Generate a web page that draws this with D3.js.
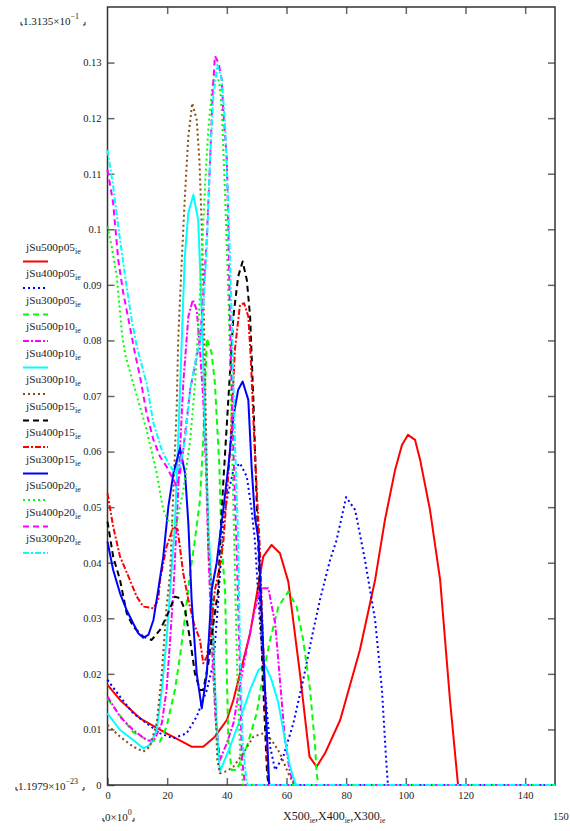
<!DOCTYPE html>
<html><head><meta charset="utf-8">
<script src="https://cdn.jsdelivr.net/npm/d3@7"></script>
<style>
body{margin:0;background:#fff}
svg text{font-family:"Liberation Serif","DejaVu Serif",serif !important;fill:#222}
</style></head>
<body><svg id="chart" width="570" height="831" font-family="Liberation Serif, serif"></svg>
<script>
// ---- data (x, y) ----
const seriesNames = ["jSu500p05","jSu400p05","jSu300p05","jSu500p10","jSu400p10","jSu300p10",
  "jSu500p15","jSu400p15","jSu300p15","jSu500p20","jSu400p20","jSu300p20"];
const seriesColors = ["#ff0000","#0000ff","#00ff00","#ff00ff","#00ffff","#8b4a10",
  "#000000","#ff0000","#0000ff","#00ff00","#ff00ff","#00ffff"];
const seriesDash = ["solid","dot","dash","dadot","solid","dot","dash","dadot","solid","dot","dash","dadot"];

const jSu500p05 = [[0,0.018],[4.2,0.0153],[10.9,0.012],[19.8,0.0093],[28.2,0.0069],[32.1,0.0069],[36,0.0087],[40,0.0117],[42.2,0.0153],[47.8,0.0273],[52.2,0.0411],[55,0.0432],[57.8,0.0417],[60.6,0.0366],[64.5,0.0201],[67.7,0.0051],[70.1,0.0033],[72.9,0.0057],[78,0.0117],[84.6,0.0243],[89.7,0.0369],[93,0.0477],[96.4,0.0567],[98.7,0.0612],[100.7,0.063],[103.1,0.0621],[104.8,0.0585],[108.1,0.0495],[111.5,0.0369],[114.8,0.0153],[117.5,0],[150,0]];
const jSu400p05 = [[0,0.0189],[4.2,0.0159],[8.6,0.0129],[13.1,0.0111],[17.6,0.0093],[22.1,0.0084],[26.5,0.0093],[29.9,0.0123],[33.3,0.0171],[35.5,0.0219],[37.1,0.033],[38.8,0.0471],[40,0.0513],[42.2,0.0567],[44.4,0.0579],[46.7,0.0555],[48.3,0.0495],[49.4,0.0441],[51.1,0.0291],[52.8,0.0171],[54.5,0.0069],[56.2,0.0027],[58.9,0.0051],[62.3,0.0111],[65.6,0.0189],[69,0.0279],[71.2,0.0333],[74.6,0.0405],[76.8,0.0441],[80,0.0518],[83,0.0495],[86.3,0.0405],[89.7,0.0297],[92,0.0171],[93.4,0.0045],[94,0],[150,0]];
const jSu300p05 = [[0,0.0155],[4.2,0.0125],[8.6,0.0095],[13.1,0.0082],[17.6,0.0078],[19.8,0.0105],[22.6,0.0171],[24.3,0.0231],[26,0.0303],[27.7,0.0381],[29.3,0.0441],[31,0.0513],[32.1,0.0621],[33.3,0.0804],[34.9,0.0777],[36,0.0723],[36.6,0.0663],[37.5,0.0573],[38.2,0.0435],[39.4,0.0351],[40,0.0201],[40.5,0.0081],[41.6,0.0027],[43.3,0.0027],[46.7,0.0069],[50,0.0129],[52.2,0.0201],[54.5,0.0261],[57.3,0.0321],[60.6,0.0348],[63.4,0.0321],[65.6,0.0261],[67.9,0.0171],[69.6,0.0069],[70.1,0.0021],[70.7,0],[150,0]];
const jSu500p10 = [[0,0.0159],[4.2,0.0123],[8.6,0.0099],[13.1,0.0081],[15.4,0.0078],[18.2,0.0111],[19.8,0.0171],[21,0.0261],[22.1,0.0351],[23.2,0.0471],[24.3,0.0603],[25.4,0.0723],[27.1,0.0843],[28.6,0.0873],[29.9,0.0855],[31,0.0783],[32.1,0.0693],[33,0.0573],[33.8,0.0423],[35,0.025],[36.2,0.012],[37.7,0.0045],[40,0.0075],[42.2,0.0111],[45.5,0.0213],[48.9,0.0303],[51.1,0.0354],[53.9,0.0354],[56.2,0.0291],[57.8,0.0189],[59.5,0.0081],[61.2,0.0021],[62.3,0.0006],[63,0],[150,0]];
const jSu400p10 = [[0,0.0129],[4.2,0.0099],[8.6,0.0081],[12,0.0066],[14.2,0.0072],[16.5,0.0099],[18.2,0.0171],[19.8,0.0261],[21,0.0351],[22.6,0.0471],[23.7,0.0621],[24.9,0.0801],[25.9,0.095],[27.1,0.103],[28.8,0.1062],[30.4,0.1017],[31.6,0.085],[32.7,0.065],[33.8,0.047],[34.9,0.0351],[36,0.018],[37.1,0.006],[37.7,0.0024],[41.1,0.0069],[44.4,0.0117],[47.8,0.0171],[50.6,0.0207],[52.8,0.0216],[55,0.0189],[57.3,0.0147],[59.5,0.0081],[61.2,0.0033],[62.9,0.0003],[63.5,0],[150,0]];
const jSu300p10 = [[0,0.0108],[4.2,0.0087],[8.6,0.0069],[12,0.006],[14.2,0.0069],[16.5,0.0111],[18.2,0.0201],[19.8,0.0321],[21,0.0381],[22.1,0.0531],[23.2,0.0681],[23.7,0.0801],[24.9,0.0945],[26,0.1065],[27.1,0.1167],[28.4,0.1227],[29.9,0.1197],[30.8,0.1125],[31.6,0.1005],[32.1,0.09],[33,0.065],[33.8,0.0423],[34.9,0.0351],[36,0.0171],[36.8,0.0045],[37.7,0.0021],[40,0.0025],[42.2,0.0033],[45.5,0.0057],[48.9,0.0087],[52.2,0.0093],[55,0.0081],[57.8,0.0057],[60.6,0.0021],[62.3,0.0003],[63,0],[150,0]];
const jSu500p15 = [[0,0.0474],[1.9,0.0411],[4.2,0.0369],[6.4,0.031],[8.6,0.0285],[12,0.0267],[14.8,0.0261],[17.6,0.0279],[19.8,0.0303],[22.6,0.0339],[24.3,0.0336],[26,0.0315],[27.7,0.0261],[29.3,0.0201],[31,0.0171],[32.1,0.0171],[33.8,0.0219],[35.5,0.0291],[37.1,0.0351],[37.7,0.0435],[38.8,0.0543],[40.5,0.0693],[42.2,0.0843],[43.8,0.0915],[45.3,0.0942],[46.7,0.0909],[47.8,0.0843],[48.9,0.0693],[49.8,0.0543],[50.6,0.0423],[52,0.02],[53.5,0.002],[54,0],[150,0]];
const jSu400p15 = [[0,0.0525],[1.9,0.0465],[4.2,0.0411],[7.5,0.0369],[9.8,0.0339],[12,0.0321],[15.4,0.0318],[17,0.0333],[17.6,0.0369],[19.8,0.0429],[22.1,0.0465],[23.5,0.046],[25.4,0.0381],[27.1,0.0333],[29,0.029],[31,0.0261],[32.1,0.0219],[33.3,0.0231],[34.9,0.0291],[36,0.0351],[37.5,0.039],[38.8,0.0435],[41.1,0.0603],[42.7,0.0783],[44.4,0.0864],[45.8,0.0867],[47.2,0.0843],[48,0.0771],[49.1,0.0633],[50.2,0.0513],[51.1,0.0423],[52.5,0.02],[53.8,0.002],[54.3,0],[150,0]];
const jSu300p15 = [[0,0.0438],[1.9,0.0387],[4.2,0.0345],[6.4,0.0315],[8.6,0.0291],[10.3,0.0273],[12,0.0265],[13.7,0.027],[15.4,0.0297],[17,0.0351],[18.7,0.0411],[20.4,0.0501],[22.1,0.0561],[24.3,0.0606],[26,0.0561],[27.1,0.0471],[28.2,0.0333],[29.9,0.0201],[31.6,0.0138],[33.3,0.0201],[34.9,0.0351],[36.6,0.04],[38.8,0.0495],[40.5,0.0573],[42.2,0.0663],[43.8,0.0711],[45.3,0.0726],[47.2,0.0693],[48.3,0.0573],[49.4,0.0483],[50.6,0.0441],[52.4,0.022],[54.2,0],[150,0]];
const jSu500p20 = [[0,0.1005],[1.4,0.0969],[3.1,0.0915],[4.8,0.0815],[5.9,0.0775],[8.6,0.0723],[13.1,0.0639],[16.5,0.0561],[18.7,0.0495],[20.4,0.0474],[23.2,0.0471],[25.4,0.053],[27.7,0.062],[29.3,0.072],[30.4,0.082],[31.6,0.095],[32.7,0.108],[33.8,0.118],[35,0.125],[36,0.1281],[37.5,0.1265],[38.3,0.1215],[39.4,0.1065],[40.5,0.0885],[41.1,0.0765],[42.2,0.05],[43.5,0.02],[44.5,0.005],[45.5,0],[150,0]];
const jSu400p20 = [[0,0.1107],[1.9,0.1047],[3.6,0.0945],[5.3,0.0885],[7.5,0.0825],[9.2,0.0777],[10.9,0.0735],[13.1,0.0669],[15.4,0.0621],[17.6,0.0591],[19.8,0.0573],[21.5,0.0555],[23.2,0.0537],[24.3,0.0561],[25.4,0.0603],[27.7,0.0711],[29.9,0.0771],[31,0.08],[32.1,0.088],[33.3,0.0985],[34.4,0.1125],[35.3,0.125],[36,0.1312],[37.2,0.13],[38.3,0.1269],[38.8,0.1215],[40,0.1125],[40.5,0.1005],[41.1,0.0825],[42.2,0.0603],[43.3,0.0423],[44.4,0.0201],[45,0.0051],[46.1,0],[150,0]];
const jSu300p20 = [[0,0.1143],[1.9,0.1077],[3.6,0.1005],[5.9,0.0915],[8.1,0.0837],[9.8,0.079],[11.5,0.0755],[13.1,0.0723],[15.4,0.0651],[18.2,0.0603],[20.4,0.0579],[22.6,0.0561],[24.3,0.0573],[26,0.0621],[27.7,0.0711],[29.9,0.0775],[31,0.0795],[32.1,0.086],[33.3,0.097],[34.4,0.113],[35.5,0.124],[36.8,0.1296],[38.3,0.127],[39.4,0.119],[40.5,0.104],[41.6,0.085],[42.7,0.062],[43.8,0.044],[44.4,0.025],[45.3,0.008],[46.5,0.001],[47,0],[150,0]];
const seriesData = [jSu500p05,jSu400p05,jSu300p05,jSu500p10,jSu400p10,jSu300p10,
  jSu500p15,jSu400p15,jSu300p15,jSu500p20,jSu400p20,jSu300p20];

const xDomain = [0,150];
const yDomain = [0,0.14];
const xTicks = [0,20,40,60,80,100,120,140];
const yTicks = [0,0.01,0.02,0.03,0.04,0.05,0.06,0.07,0.08,0.09,0.1,0.11,0.12,0.13];
const xTitleParts = ["X500","X400","X300"];

// ---- drawing ----
const FONT = "'Liberation Serif', 'DejaVu Serif', serif";
const svg = d3.select("#chart");
const L = 107.5, R = 555, T = 7, B = 785;
const x = d3.scaleLinear().domain(xDomain).range([L,R]);
const y = d3.scaleLinear().domain(yDomain).range([B,T]);
const dashes = {solid:null, dot:"2,3", dash:"6,4", dadot:"6,2,2,2"};

function styleAxis(g, labels){
  g.attr("font-family",FONT);
  g.select(".domain").remove();
  g.selectAll(".tick line").attr("stroke","#666").attr("stroke-width",1.5);
  g.selectAll(".tick text").attr("font-family",FONT).style("font-size","10.5px").attr("fill","#222");
  if(!labels) g.selectAll(".tick text").remove();
}
const fmt = d => (+d.toFixed(2)).toString();
svg.append("g").attr("transform",`translate(0,${B})`)
  .call(d3.axisBottom(x).tickValues(xTicks).tickSize(-7).tickPadding(7).tickFormat(d=>d))
  .call(g=>styleAxis(g,true));
svg.append("g").attr("transform",`translate(0,${T})`)
  .call(d3.axisTop(x).tickValues(xTicks.slice(1)).tickSize(-7))
  .call(g=>styleAxis(g,false));
svg.append("g").attr("transform",`translate(${L},0)`)
  .call(d3.axisLeft(y).tickValues(yTicks).tickSize(-7).tickPadding(6).tickFormat(fmt))
  .call(g=>styleAxis(g,true));
svg.append("g").attr("transform",`translate(${R},0)`)
  .call(d3.axisRight(y).tickValues(yTicks.slice(1)).tickSize(-7))
  .call(g=>styleAxis(g,false));

svg.append("rect").attr("x",L).attr("y",T).attr("width",R-L).attr("height",B-T)
  .attr("fill","none").attr("stroke","#333").attr("stroke-width",1.5);

const line = d3.line().x(d=>x(d[0])).y(d=>y(d[1]));
seriesData.forEach((s,i)=>{
  svg.append("path").datum(s).attr("d",line).attr("fill","none")
    .attr("stroke",seriesColors[i]).attr("stroke-width",2)
    .attr("stroke-linejoin","round")
    .attr("stroke-dasharray",dashes[seriesDash[i]]);
});

// legend
const lg = svg.append("g");
seriesNames.forEach((n,i)=>{
  const yy = 250.5 + i*26.5;
  const t = lg.append("text").attr("x",26).attr("y",yy).attr("font-family",FONT).style("font-size","11.3px");
  t.append("tspan").text(n);
  t.append("tspan").attr("dy",3).style("font-size","8px").text("ie");
  lg.append("line").attr("x1",23).attr("x2",48).attr("y1",yy+11).attr("y2",yy+11)
    .attr("stroke",seriesColors[i]).attr("stroke-width",2)
    .attr("stroke-dasharray",dashes[seriesDash[i]]);
});

// range labels (Mathcad style)
function mark(xp,yp,dir){
  svg.append("path").attr("d",`M${xp},${yp-3}v3h${2*dir}`).attr("fill","none").attr("stroke","#222").attr("stroke-width",1);
}
function sciLabel(xp,yp,mant,exp){
  const t = svg.append("text").attr("x",xp).attr("y",yp).attr("font-family",FONT).style("font-size","11px");
  t.append("tspan").text(mant+"×10");
  t.append("tspan").attr("dy",-6).style("font-size","8px").text(exp);
  return t;
}
sciLabel(23,25,"1.3135","−1"); mark(21,25,1); mark(85,25,-1);
sciLabel(18,790,"1.1979","−23"); mark(16,790,1); mark(84,790,-1);
sciLabel(105,821,"0","0"); mark(103,821,1); mark(134,821,-1);

const xt = svg.append("text").attr("x",283).attr("y",820).attr("font-family",FONT).style("font-size","12px");
xTitleParts.forEach((p,i)=>{
  xt.append("tspan").attr("dy", i===0?0:-3).text((i?",":"")+p);
  xt.append("tspan").attr("dy",3).style("font-size","7.5px").text("ie");
});
svg.append("text").attr("x",553).attr("y",820).attr("font-family",FONT).style("font-size","10.5px").text("150");
</script>
</body></html>
